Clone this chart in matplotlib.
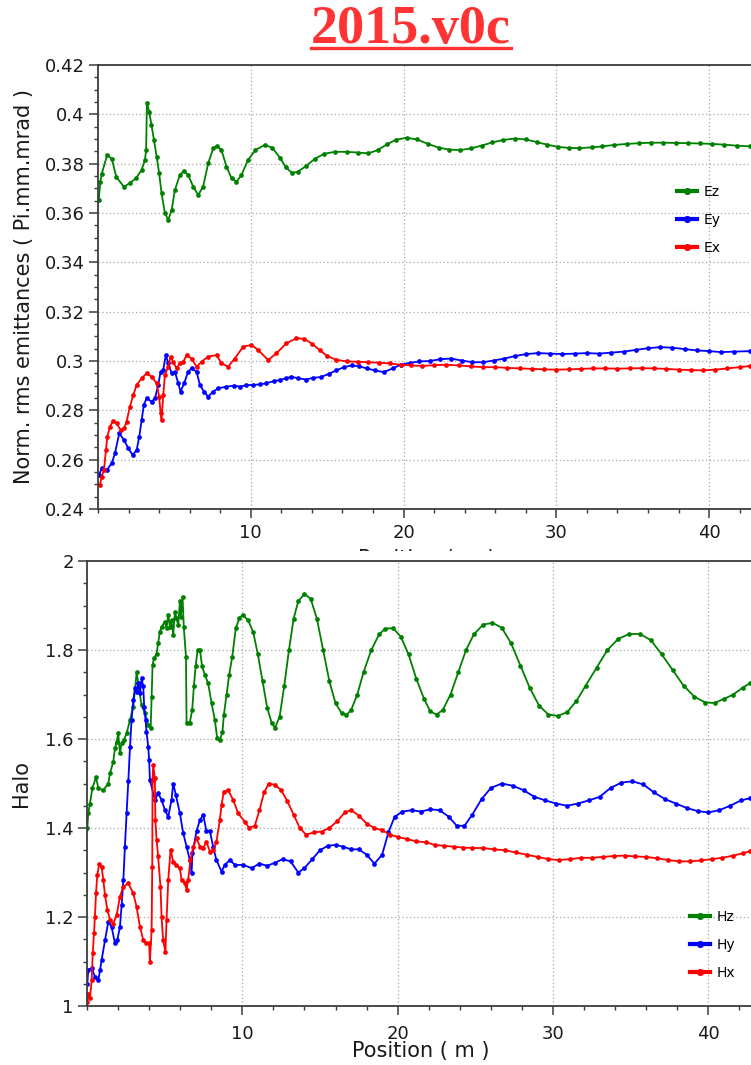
import matplotlib
matplotlib.use("Agg")
import matplotlib.pyplot as plt
from matplotlib.ticker import MultipleLocator, FixedLocator, FuncFormatter
from matplotlib.patches import Rectangle
from matplotlib.lines import Line2D

# ---------------- emittances (top panel) ----------------
ez_pos = [0.05, 0.15, 0.25, 0.6, 0.9, 1.2, 1.7, 2.1, 2.5, 2.85, 3.07, 3.15, 3.2, 3.35, 3.5, 3.66,
          3.84, 4.0, 4.16, 4.38, 4.6, 4.82, 5.03, 5.36, 5.62, 5.9, 6.23, 6.56, 6.88, 7.21, 7.54,
          7.8, 8.08, 8.41, 8.74, 9.06, 9.39, 9.82, 10.3, 10.9, 11.4, 11.9, 12.3, 12.7, 13.1, 13.6,
          14.2, 14.8, 15.5, 16.3, 17.0, 17.7, 18.3, 18.9, 19.5, 20.2, 20.9, 21.6, 22.3, 23.0,
          23.7, 24.4, 25.1, 25.8, 26.5, 27.3, 28.0, 28.7, 29.4, 30.1, 30.8, 31.5, 32.3, 33.0,
          33.8, 34.6, 35.4, 36.2, 37.0, 37.8, 38.6, 39.4, 40.2, 41.0, 41.8, 42.7]
ez_val = [.3653, .3726, .376, .3835, .382, .3746, .3706, .3722, .3742, .3774, .3815, .3855, .4047,
          .401, .3957, .3896, .3828, .3762, .368, .360, .3572, .3612, .3693, .3754, .3771, .3754,
          .3707, .3673, .3707, .3801, .3862, .3873, .3855, .3788, .3741, .3727, .3754, .3815,
          .3855, .3876, .3865, .3825, .3785, .3762, .3768, .379, .382, .384, .3848, .3848, .3845,
          .3842, .3855, .3878, .3897, .3905, .3898, .388, .3865, .3857, .3855, .3862, .3873,
          .3886, .3896, .3902, .3898, .3888, .3877, .3868, .3864, .3863, .3866, .387, .3876,
          .388, .3883, .3885, .3885, .3884, .3883, .3882, .388, .3877, .3873, .387]

ey_pos = [0.07, 0.24, 0.57, 0.9, 1.11, 1.39, 1.7, 1.98, 2.27, 2.53, 2.7, 2.86, 3.0, 3.18, 3.51,
          3.73, 3.94, 4.1, 4.27, 4.44, 4.6, 4.82, 5.03, 5.25, 5.4, 5.64, 5.9, 6.12, 6.45, 6.67,
          6.93, 7.21, 7.54, 7.86, 8.41, 8.9, 9.28, 9.7, 10.15, 10.6, 11.0, 11.5, 11.9, 12.3,
          12.66, 13.1, 13.6, 14.1, 14.6, 15.1, 15.6, 16.1, 16.6, 17.1, 17.6, 18.1, 18.7, 19.3,
          19.8, 20.4, 21.0, 21.7, 22.4, 23.1, 23.8, 24.5, 25.2, 25.9, 26.6, 27.3, 28.0, 28.8,
          29.6, 30.4, 31.2, 32.0, 32.8, 33.6, 34.4, 35.2, 36.0, 36.8, 37.6, 38.4, 39.2, 40.0,
          40.8, 41.6, 42.7]
ey_val = [.2538, .2565, .2558, .2585, .2626, .2707, .268, .2646, .2619, .2639, .2693, .2761, .2822,
          .2849, .2835, .2849, .2903, .2957, .2964, .3024, .2991, .295, .2957, .291, .2876, .291,
          .2957, .297, .2957, .2903, .2876, .2856, .2876, .2889, .2896, .290, .2896, .2902, .2903,
          .2905, .291, .2918, .2923, .293, .2936, .293, .2925, .2932, .2935, .2948, .2962, .2975,
          .2982, .2978, .297, .2962, .2955, .297, .2985, .2992, .2998, .300, .3007, .301, .3002,
          .2995, .2995, .3002, .301, .302, .3028, .3032, .303, .3028, .303, .3032, .303, .3034,
          .3038, .3045, .3052, .3056, .3054, .3048, .3043, .304, .3036, .3038, .304]

ex_pos = [0.13, 0.24, 0.39, 0.52, 0.61, 0.78, 1.0, 1.22, 1.48, 1.7, 1.87, 2.09, 2.31, 2.53, 2.86,
          3.18, 3.51, 3.84, 4.0, 4.1, 4.16, 4.27, 4.38, 4.6, 4.75, 4.92, 5.14, 5.36, 5.58, 5.8,
          6.12, 6.45, 6.78, 7.21, 7.76, 8.08, 8.52, 8.95, 9.5, 10.04, 10.48, 11.13, 11.68, 12.33,
          12.99, 13.5, 14.0, 14.5, 15.0, 15.6, 16.3, 17.0, 17.7, 18.4, 19.1, 19.8, 20.5, 21.2,
          22.0, 22.8, 23.6, 24.4, 25.2, 26.0, 26.8, 27.6, 28.4, 29.2, 30.0, 30.8, 31.6, 32.4,
          33.2, 34.0, 34.8, 35.6, 36.4, 37.2, 38.0, 38.8, 39.6, 40.4, 41.2, 42.0, 42.7]
ex_val = [.2497, .2531, .2558, .2639, .2693, .2734, .2758, .2747, .272, .2727, .2754, .2815, .2862,
          .2903, .293, .295, .2936, .291, .2856, .2788, .2761, .2862, .2943, .2977, .3018, .2997,
          .297, .2991, .2997, .3024, .301, .2977, .2997, .3018, .3024, .2991, .2977, .301, .3058,
          .3065, .3045, .3004, .3031, .3072, .3092, .309, .307, .3045, .302, .3005, .2998, .2997,
          .2995, .2993, .299, .2985, .2982, .298, .2983, .2985, .2982, .2978, .2975, .2975,
          .2972, .297, .2968, .2966, .2965, .2966, .2968, .297, .297, .2969, .297, .2971, .297,
          .2968, .2965, .2963, .2962, .2965, .297, .2975, .298]

# ---------------- halo (bottom panel) ----------------
hz_pos = [0.02, 0.08, 0.19, 0.35, 0.58, 0.73, 1.05, 1.37, 1.48, 1.69, 1.8, 1.91, 2.01, 2.12, 2.23,
          2.38, 2.55, 2.77, 2.98, 3.2, 3.3, 3.51, 3.73, 3.94, 4.1, 4.16, 4.22, 4.31, 4.48, 4.58,
          4.69, 4.8, 5.02, 5.12, 5.23, 5.34, 5.44, 5.55, 5.66, 5.76, 5.87, 5.98, 6.04, 6.15, 6.23,
          6.37, 6.41, 6.62, 6.77, 6.88, 6.99, 7.12, 7.27, 7.41, 7.59, 7.8, 8.02, 8.23, 8.38, 8.55,
          8.72, 8.81, 8.98, 9.15, 9.35, 9.58, 9.8, 10.01, 10.37, 10.7, 11.0, 11.3, 11.6, 11.9,
          12.1, 12.4, 12.7, 13.0, 13.3, 13.6, 14.0, 14.4, 14.8, 15.2, 15.6, 16.0, 16.4, 16.7,
          17.0, 17.4, 17.8, 18.3, 18.8, 19.2, 19.7, 20.2, 20.7, 21.2, 21.7, 22.1, 22.5, 22.9,
          23.4, 23.9, 24.4, 24.9, 25.5, 26.1, 26.7, 27.3, 27.9, 28.5, 29.1, 29.7, 30.3, 30.9,
          31.5, 32.1, 32.8, 33.5, 34.2, 34.9, 35.6, 36.3, 37.0, 37.7, 38.4, 39.1, 39.8, 40.4,
          41.0, 41.6, 42.2, 42.7]
hz_val = [1.399, 1.433, 1.455, 1.49, 1.514, 1.489, 1.485, 1.50, 1.523, 1.549, 1.579, 1.594, 1.613,
          1.568, 1.59, 1.598, 1.613, 1.643, 1.673, 1.751, 1.725, 1.676, 1.658, 1.631, 1.624,
          1.695, 1.766, 1.781, 1.792, 1.815, 1.841, 1.852, 1.864, 1.849, 1.879, 1.852, 1.867,
          1.834, 1.886, 1.871, 1.856, 1.909, 1.875, 1.92, 1.852, 1.785, 1.635, 1.637, 1.665,
          1.718, 1.763, 1.80, 1.80, 1.763, 1.744, 1.725, 1.68, 1.643, 1.602, 1.598, 1.616, 1.654,
          1.699, 1.744, 1.785, 1.849, 1.871, 1.879, 1.867, 1.84, 1.79, 1.73, 1.67, 1.635, 1.625,
          1.65, 1.72, 1.80, 1.87, 1.91, 1.926, 1.915, 1.87, 1.80, 1.73, 1.68, 1.658, 1.654, 1.665,
          1.70, 1.75, 1.80, 1.835, 1.848, 1.849, 1.83, 1.79, 1.735, 1.69, 1.662, 1.655, 1.665,
          1.70, 1.75, 1.80, 1.835, 1.857, 1.861, 1.85, 1.815, 1.765, 1.715, 1.675, 1.655, 1.652,
          1.66, 1.685, 1.72, 1.76, 1.80, 1.825, 1.836, 1.836, 1.822, 1.79, 1.755, 1.72, 1.695,
          1.682, 1.681, 1.69, 1.70, 1.715, 1.726]

hy_pos = [0.02, 0.08, 0.3, 0.51, 0.73, 0.84, 0.94, 1.16, 1.37, 1.58, 1.8, 1.95, 2.12, 2.23, 2.34,
          2.44, 2.55, 2.66, 2.77, 2.87, 2.98, 3.09, 3.19, 3.3, 3.41, 3.51, 3.62, 3.68, 3.77, 3.83,
          3.94, 4.0, 4.05, 4.37, 4.58, 4.8, 5.02, 5.23, 5.44, 5.55, 5.72, 5.98, 6.19, 6.41, 6.62,
          6.73, 6.79, 7.05, 7.27, 7.48, 7.69, 7.91, 8.12, 8.33, 8.66, 8.87, 9.2, 9.52, 10.05,
          10.6, 11.1, 11.6, 12.1, 12.6, 13.1, 13.6, 14.0, 14.5, 15.0, 15.5, 16.0, 16.5, 17.0,
          17.5, 18.0, 18.5, 19.0, 19.4, 19.8, 20.3, 20.9, 21.5, 22.1, 22.7, 23.3, 23.8, 24.3,
          24.8, 25.4, 26.0, 26.7, 27.4, 28.1, 28.8, 29.5, 30.2, 30.9, 31.6, 32.3, 33.0, 33.7,
          34.4, 35.1, 35.8, 36.5, 37.2, 37.9, 38.6, 39.3, 40.0, 40.7, 41.4, 42.1, 42.7]
hy_val = [1.05, 1.081, 1.085, 1.066, 1.058, 1.081, 1.103, 1.148, 1.189, 1.178, 1.141, 1.148, 1.178,
          1.227, 1.283, 1.358, 1.433, 1.506, 1.583, 1.643, 1.688, 1.714, 1.706, 1.725, 1.703,
          1.736, 1.718, 1.673, 1.643, 1.616, 1.583, 1.553, 1.508, 1.463, 1.478, 1.463, 1.44,
          1.425, 1.463, 1.50, 1.474, 1.433, 1.389, 1.358, 1.328, 1.298, 1.343, 1.393, 1.418,
          1.429, 1.393, 1.393, 1.358, 1.328, 1.302, 1.317, 1.328, 1.317, 1.317, 1.31, 1.32,
          1.315, 1.322, 1.33, 1.325, 1.30, 1.31, 1.33, 1.35, 1.36, 1.362, 1.358, 1.352, 1.352,
          1.34, 1.32, 1.34, 1.39, 1.425, 1.437, 1.44, 1.437, 1.442, 1.44, 1.425, 1.405, 1.405,
          1.43, 1.465, 1.49, 1.50, 1.495, 1.485, 1.47, 1.462, 1.455, 1.45, 1.455, 1.462, 1.47,
          1.49, 1.502, 1.505, 1.498, 1.48, 1.465, 1.455, 1.445, 1.438, 1.435, 1.44, 1.45, 1.462,
          1.467]

hx_pos = [0.02, 0.08, 0.19, 0.3, 0.37, 0.45, 0.51, 0.58, 0.66, 0.79, 0.94, 1.05, 1.16, 1.31, 1.48,
          1.69, 1.91, 2.12, 2.34, 2.66, 2.98, 3.19, 3.41, 3.62, 3.83, 4.0, 4.05, 4.16, 4.2, 4.22,
          4.26, 4.37, 4.4, 4.48, 4.58, 4.73, 4.8, 4.9, 5.05, 5.12, 5.23, 5.38, 5.55, 5.76, 5.98,
          6.09, 6.3, 6.41, 6.51, 6.66, 6.84, 7.05, 7.27, 7.48, 7.69, 7.91, 8.12, 8.33, 8.55, 8.66,
          8.81, 9.09, 9.41, 9.73, 10.16, 10.44, 10.8, 11.1, 11.4, 11.7, 12.1, 12.5, 12.9, 13.3,
          13.7, 14.1, 14.6, 15.1, 15.6, 16.1, 16.6, 17.0, 17.5, 18.0, 18.5, 19.0, 19.5, 20.0,
          20.6, 21.2, 21.8, 22.4, 23.0, 23.6, 24.2, 24.8, 25.5, 26.2, 26.9, 27.6, 28.3, 29.0,
          29.7, 30.4, 31.1, 31.8, 32.5, 33.2, 33.9, 34.6, 35.3, 36.0, 36.7, 37.4, 38.1, 38.8,
          39.5, 40.2, 40.9, 41.6, 42.2, 42.7]
hx_val = [1.01, 1.028, 1.017, 1.058, 1.118, 1.163, 1.20, 1.253, 1.294, 1.32, 1.313, 1.283, 1.249,
          1.216, 1.193, 1.185, 1.204, 1.246, 1.268, 1.276, 1.253, 1.223, 1.178, 1.148, 1.141,
          1.141, 1.10, 1.171, 1.313, 1.508, 1.542, 1.512, 1.418, 1.373, 1.336, 1.268, 1.20, 1.148,
          1.121, 1.193, 1.283, 1.351, 1.324, 1.317, 1.309, 1.283, 1.276, 1.261, 1.283, 1.328,
          1.358, 1.377, 1.358, 1.355, 1.369, 1.347, 1.351, 1.369, 1.418, 1.452, 1.482, 1.485,
          1.463, 1.433, 1.414, 1.40, 1.405, 1.44, 1.48, 1.50, 1.497, 1.485, 1.46, 1.43, 1.40,
          1.385, 1.39, 1.392, 1.40, 1.415, 1.435, 1.44, 1.428, 1.41, 1.40, 1.395, 1.385, 1.38,
          1.375, 1.37, 1.368, 1.362, 1.36, 1.358, 1.356, 1.355, 1.355, 1.352, 1.35, 1.345, 1.34,
          1.335, 1.33, 1.328, 1.33, 1.333, 1.333, 1.335, 1.337, 1.338, 1.336, 1.335, 1.332,
          1.328, 1.325, 1.325, 1.327, 1.33, 1.333, 1.338, 1.343, 1.348]

major_x = [10, 20, 30, 40]

GREEN = "#008000"
BLUE = "#0000ff"
RED = "#ff0000"
SPINE = "#3c3c3c"

W, H = 751, 1065
fig = plt.figure(figsize=(W / 100, H / 100), dpi=100)
plt.rcParams["font.family"] = ["DejaVu Sans"]


def px_rect(left, top, right, bottom):
    return [left / W, 1 - bottom / H, (right - left) / W, (bottom - top) / H]


def style_axes(ax, ymaj, ymin, xpad):
    ax.set_xlim(0, 43)
    ax.xaxis.set_major_locator(FixedLocator(major_x))
    ax.xaxis.set_minor_locator(MultipleLocator(2))
    ax.yaxis.set_major_locator(MultipleLocator(ymaj))
    ax.yaxis.set_minor_locator(MultipleLocator(ymin))
    ax.yaxis.set_major_formatter(FuncFormatter(lambda v, p: "%g" % round(v, 4)))
    ax.xaxis.set_major_formatter(FuncFormatter(lambda v, p: "%g" % v))
    ax.tick_params(which="major", direction="out", length=6.5, width=1.1, color=SPINE,
                   labelsize=13, pad=3, labelcolor="#1a1a1a")
    ax.tick_params(which="minor", direction="out", length=3, width=1.0, color=SPINE)
    ax.tick_params(axis="x", which="major", pad=xpad)
    ax.grid(True, which="major", linestyle=(0, (1, 2)), color="#a8a8a8", linewidth=0.9)
    for side in ("left", "bottom", "top"):
        ax.spines[side].set_color(SPINE)
        ax.spines[side].set_linewidth(1.3)
    ax.spines["right"].set_visible(False)


def draw(ax, xs, ys, color, label):
    ax.plot(xs, ys, color=color, linewidth=1.3, marker="o", markersize=3.4,
            markeredgewidth=0, label=label, clip_on=True)


def add_legend(ax, left_px, top_px):
    leg = ax.legend(loc="upper left", bbox_to_anchor=(left_px / W, 1 - top_px / H),
                    bbox_transform=fig.transFigure, frameon=False, fontsize=10,
                    handlelength=1.45, handletextpad=0.5, labelspacing=1.0,
                    borderpad=0, borderaxespad=0, markerscale=1.5)
    for h in leg.get_lines():
        h.set_linewidth(3)


# ---------------- top panel ----------------
ax1 = fig.add_axes(px_rect(98, 65, 755, 509))
ax1.set_zorder(0)
style_axes(ax1, 0.02, 0.005, 4)
ax1.set_ylim(0.24, 0.42)
draw(ax1, ez_pos, ez_val, GREEN, "Ez")
draw(ax1, ey_pos, ey_val, BLUE, "Ey")
draw(ax1, ex_pos, ex_val, RED, "Ex")
ax1.set_ylabel("Norm. rms emittances ( Pi.mm.mrad )", fontsize=15, color="#1a1a1a", labelpad=8)
ax1.set_xlabel("Position ( m )", fontsize=15, color="#1a1a1a", labelpad=5)
add_legend(ax1, 677, 185)

# white band hiding the lower part of the top panel's axis title
fig.add_artist(Rectangle((0, 0), 1, 1 - 551 / H, transform=fig.transFigure,
                         facecolor="white", edgecolor="none", zorder=1))

# ---------------- bottom panel ----------------
ax2 = fig.add_axes(px_rect(87, 561, 755, 1006))
ax2.set_zorder(2)
style_axes(ax2, 0.2, 0.05, 7)
ax2.set_ylim(1.0, 2.0)
draw(ax2, hz_pos, hz_val, GREEN, "Hz")
draw(ax2, hy_pos, hy_val, BLUE, "Hy")
draw(ax2, hx_pos, hx_val, RED, "Hx")
ax2.set_ylabel("Halo", fontsize=15, color="#1a1a1a", labelpad=10)
ax2.set_xlabel("Position ( m )", fontsize=15, color="#1a1a1a", labelpad=-1)
add_legend(ax2, 690, 910)

# ---------------- title ----------------
title = fig.text(411 / W, 1 - 30 / H, "2015.v0c", ha="center", va="center",
                 fontsize=39, fontweight="bold", family="Liberation Serif",
                 color="#ff3333", zorder=5)
fig.canvas.draw()
bb = title.get_window_extent()
uy = bb.y0 + 7
fig.add_artist(Line2D([bb.x0 / W, bb.x1 / W], [uy / H] * 2, transform=fig.transFigure,
                      color="#ff3333", linewidth=2.4, zorder=5))

fig.savefig("out.png", dpi=100)
